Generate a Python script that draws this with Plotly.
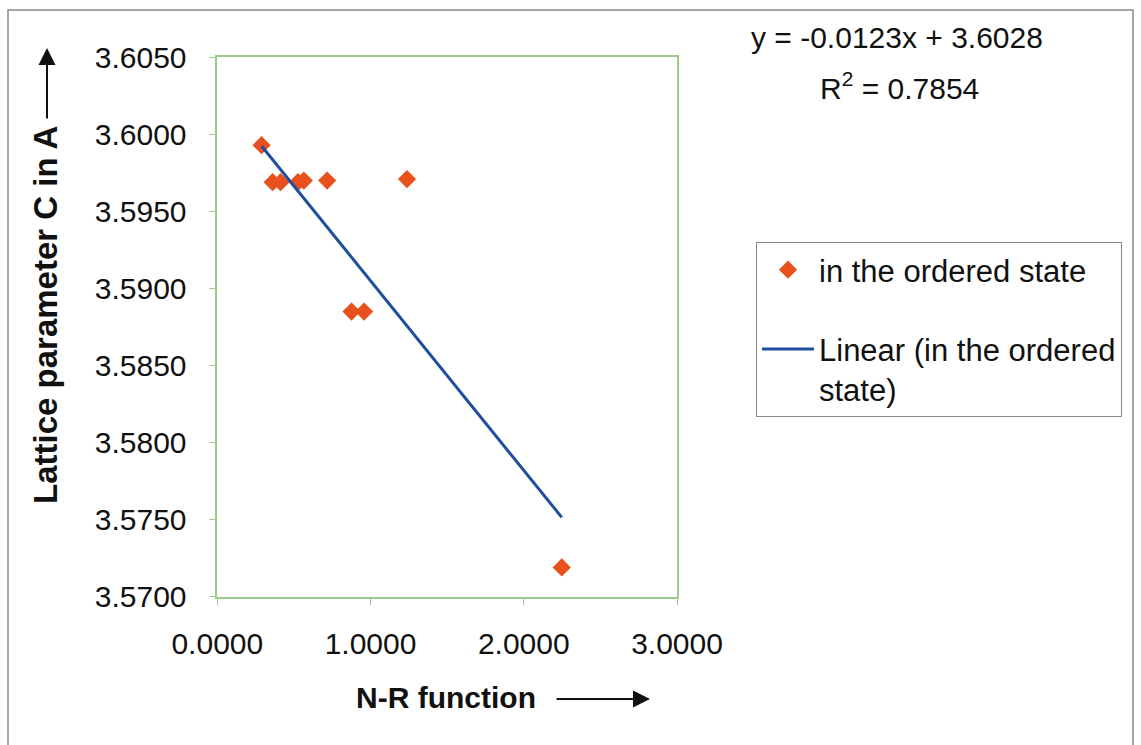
import plotly.graph_objects as go

# N-R function values and the measured lattice parameter C (in the ordered state)
nr_function = [0.289, 0.361, 0.413, 0.526, 0.565, 0.717, 1.238, 0.876, 0.958, 2.248]
lattice_c = [3.5993, 3.5969, 3.5969, 3.5969, 3.5970, 3.5970, 3.5971, 3.5885, 3.5885, 3.5719]

# Least-squares trendline as reported on the chart
slope = -0.0123
intercept = 3.6028
r_squared = 0.7854

x_ticks = [0, 1, 2, 3]
y_ticks = [3.5700, 3.5750, 3.5800, 3.5850, 3.5900, 3.5950, 3.6000, 3.6050]

W, H = 1141, 745
FONT = "Liberation Sans, Arial, sans-serif"
AXIS_GREEN = "#9ccc8c"
POINT_COLOR = "#e8501c"
LINE_COLOR = "#1f4e9e"
TEXT = "#111111"

trend_x = [min(nr_function), max(nr_function)]
trend_y = [slope * v + intercept for v in trend_x]

fig = go.Figure()
fig.add_trace(go.Scatter(
    x=nr_function, y=lattice_c, mode="markers",
    name="in the ordered state", legendgroup="a",
    marker=dict(symbol="diamond", size=14, color=POINT_COLOR),
))
fig.add_trace(go.Scatter(
    x=trend_x, y=trend_y, mode="lines",
    name="Linear (in the ordered<br>state)", legendgroup="b",
    line=dict(color=LINE_COLOR, width=3),
))

def px_x(p):
    return p / W

def px_y(p):
    return 1 - p / H

fig.update_layout(
    width=W, height=H,
    margin=dict(l=0, r=0, t=0, b=0, autoexpand=False),
    paper_bgcolor="white", plot_bgcolor="white",
    font=dict(family=FONT, size=30, color=TEXT),
    showlegend=True,
    legend=dict(
        x=px_x(756), y=px_y(242), xanchor="left", yanchor="top",
        bordercolor="#8a8a8a", borderwidth=1, bgcolor="white",
        font=dict(family=FONT, size=31, color=TEXT),
        tracegroupgap=36, itemwidth=52, valign="top",
    ),
    xaxis=dict(
        domain=[px_x(217.3), px_x(677)], range=[0, 3],
        tickvals=x_ticks, tickformat=".4f",
        showline=True, linecolor=AXIS_GREEN, linewidth=1.5, mirror=True,
        ticks="outside", ticklen=7, tickcolor=AXIS_GREEN,
        showgrid=False, zeroline=False, ticklabelstandoff=13,
    ),
    yaxis=dict(
        domain=[px_y(596.7), px_y(57.3)], range=[3.5700, 3.6050],
        tickvals=y_ticks, tickformat=".4f",
        showline=True, linecolor=AXIS_GREEN, linewidth=1.5, mirror=True,
        ticks="outside", ticklen=7, tickcolor=AXIS_GREEN,
        showgrid=False, zeroline=False, ticklabelstandoff=16,
    ),
)

# Outer chart frame
fig.add_shape(type="rect", xref="paper", yref="paper",
              x0=px_x(8), x1=px_x(1133), y0=px_y(770), y1=px_y(10),
              line=dict(color="#8a8a8a", width=1.5), layer="below")

# Axis titles with direction arrows
fig.add_annotation(text="<b>N-R function</b>", xref="paper", yref="paper",
                   x=px_x(446), y=px_y(697), xanchor="center", yanchor="middle",
                   showarrow=False, font=dict(family=FONT, size=30, color=TEXT))
fig.add_annotation(text="", xref="paper", yref="paper",
                   x=px_x(650), y=px_y(699), ax=-95, ay=0,
                   showarrow=True, arrowhead=2, arrowsize=1.7, arrowwidth=2,
                   arrowcolor=TEXT)
fig.add_annotation(text="<b>Lattice parameter C in A</b>", xref="paper", yref="paper",
                   x=px_x(46), y=px_y(315), xanchor="center", yanchor="middle",
                   showarrow=False, textangle=-90,
                   font=dict(family=FONT, size=33, color=TEXT))
fig.add_annotation(text="", xref="paper", yref="paper",
                   x=px_x(47), y=px_y(48), ax=0, ay=72,
                   showarrow=True, arrowhead=2, arrowsize=1.7, arrowwidth=2,
                   arrowcolor=TEXT)

# Trendline equation and R-squared
fig.add_annotation(text=f"y = {slope:.4f}x + {intercept:.4f}", xref="paper", yref="paper",
                   x=px_x(897), y=px_y(38), xanchor="center", yanchor="middle",
                   showarrow=False, font=dict(family=FONT, size=30, color=TEXT))
fig.add_annotation(text=f"R<sup>2</sup> = {r_squared:.4f}", xref="paper", yref="paper",
                   x=px_x(899), y=px_y(86), xanchor="center", yanchor="middle",
                   showarrow=False, font=dict(family=FONT, size=30, color=TEXT))

fig.write_html("out.html")
